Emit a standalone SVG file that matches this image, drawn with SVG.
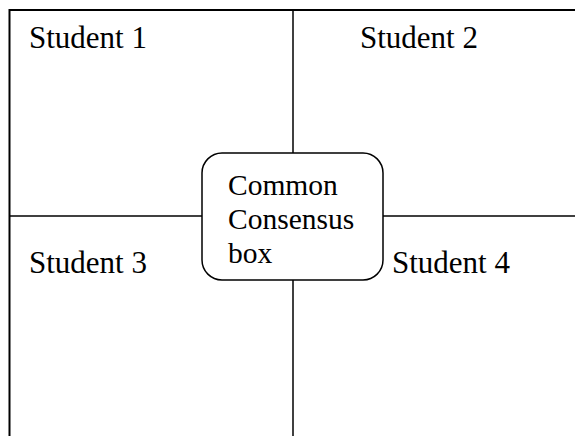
<svg xmlns="http://www.w3.org/2000/svg" width="575" height="436" viewBox="0 0 575 436">
<style>
.ln{stroke:#000;stroke-width:1.5;fill:none}
.outer{stroke:#000;stroke-width:2;fill:none}
.t{font-family:"Liberation Serif","Times New Roman",serif;font-size:29.5px;fill:#000}
.s{font-family:"Liberation Serif","Times New Roman",serif;font-size:31px;fill:#000}
.box{fill:#fff;stroke:#000;stroke-width:1.5}
</style>
<rect width="575" height="436" fill="#fff"/>
<g id="connectors">
<line class="outer" x1="9.5" y1="10" x2="575" y2="10"/>
<line class="outer" x1="9.5" y1="9" x2="9.5" y2="436"/>
<line class="ln" x1="293" y1="10" x2="293" y2="436"/>
<line class="ln" x1="9.5" y1="216" x2="575" y2="216"/>
</g>
<g id="student1"><text class="s" x="29" y="48">Student 1</text></g>
<g id="student2"><text class="s" x="360" y="48">Student 2</text></g>
<g id="student3"><text class="s" x="29" y="273">Student 3</text></g>
<g id="student4"><text class="s" x="392" y="273">Student 4</text></g>
<g id="consensus">
<rect class="box" x="202" y="153" width="181" height="127" rx="20" ry="20"/>
<text class="t" x="228" y="195">Common</text>
<text class="t" x="228" y="229">Consensus</text>
<text class="t" x="228" y="263">box</text>
</g>
</svg>
